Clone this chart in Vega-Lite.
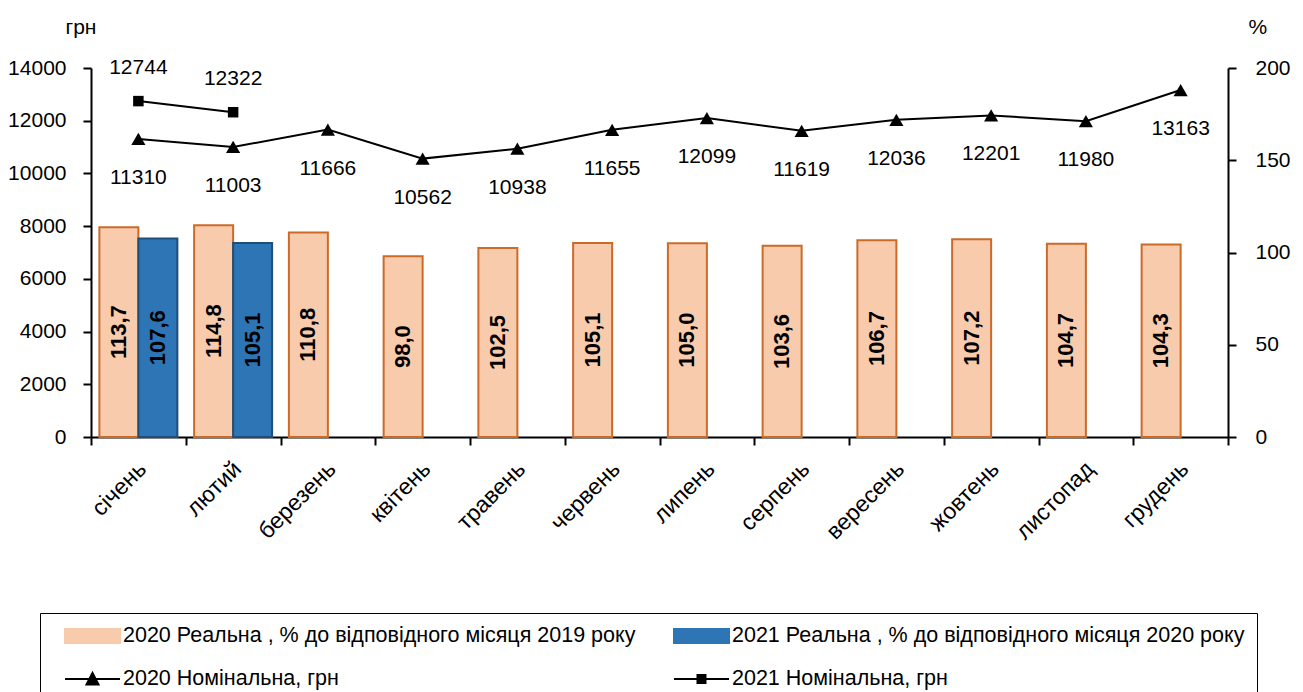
{
  "$schema": "https://vega.github.io/schema/vega-lite/v6.json",
  "width": 1137,
  "height": 369,
  "autosize": {"type": "none"},
  "padding": {"left": 91, "top": 68, "right": 75, "bottom": 255},
  "config": {
    "font": "Liberation Sans",
    "view": {"stroke": null},
    "locale": {"number": {"decimal": ",", "thousands": "", "grouping": [3], "currency": ["", ""]}},
    "axis": {
      "grid": false,
      "domainColor": "black",
      "domainWidth": 2,
      "tickColor": "black",
      "tickWidth": 2,
      "tickSize": 8,
      "labelFontSize": 21,
      "labelColor": "black",
      "labelFont": "Liberation Sans",
      "titleFontSize": 21,
      "titleFontWeight": "normal",
      "titleColor": "black",
      "titleFont": "Liberation Sans"
    },
    "legend": {
      "title": null,
      "orient": "none",
      "legendX": -51,
      "legendY": 545,
      "columns": 2,
      "strokeColor": "black",
      "padding": 12,
      "labelFontSize": 21.5,
      "labelColor": "black",
      "labelFont": "Liberation Sans",
      "labelLimit": 800,
      "symbolSize": 400,
      "symbolStrokeWidth": 2,
      "labelOffset": 49,
      "rowPadding": 21,
      "columnPadding": 25
    }
  },
  "datasets": {
    "bars": [
      {"month": "січень", "series": "2020 Реальна , % до відповідного місяця 2019 року", "v": 113.7},
      {"month": "січень", "series": "2021 Реальна , % до відповідного місяця 2020 року", "v": 107.6},
      {"month": "лютий", "series": "2020 Реальна , % до відповідного місяця 2019 року", "v": 114.8},
      {"month": "лютий", "series": "2021 Реальна , % до відповідного місяця 2020 року", "v": 105.1},
      {"month": "березень", "series": "2020 Реальна , % до відповідного місяця 2019 року", "v": 110.8},
      {"month": "квітень", "series": "2020 Реальна , % до відповідного місяця 2019 року", "v": 98.0},
      {"month": "травень", "series": "2020 Реальна , % до відповідного місяця 2019 року", "v": 102.5},
      {"month": "червень", "series": "2020 Реальна , % до відповідного місяця 2019 року", "v": 105.1},
      {"month": "липень", "series": "2020 Реальна , % до відповідного місяця 2019 року", "v": 105.0},
      {"month": "серпень", "series": "2020 Реальна , % до відповідного місяця 2019 року", "v": 103.6},
      {"month": "вересень", "series": "2020 Реальна , % до відповідного місяця 2019 року", "v": 106.7},
      {"month": "жовтень", "series": "2020 Реальна , % до відповідного місяця 2019 року", "v": 107.2},
      {"month": "листопад", "series": "2020 Реальна , % до відповідного місяця 2019 року", "v": 104.7},
      {"month": "грудень", "series": "2020 Реальна , % до відповідного місяця 2019 року", "v": 104.3}
    ],
    "lines": [
      {"month": "січень", "series": "2020 Номінальна, грн", "v": 11310},
      {"month": "лютий", "series": "2020 Номінальна, грн", "v": 11003},
      {"month": "березень", "series": "2020 Номінальна, грн", "v": 11666},
      {"month": "квітень", "series": "2020 Номінальна, грн", "v": 10562},
      {"month": "травень", "series": "2020 Номінальна, грн", "v": 10938},
      {"month": "червень", "series": "2020 Номінальна, грн", "v": 11655},
      {"month": "липень", "series": "2020 Номінальна, грн", "v": 12099},
      {"month": "серпень", "series": "2020 Номінальна, грн", "v": 11619},
      {"month": "вересень", "series": "2020 Номінальна, грн", "v": 12036},
      {"month": "жовтень", "series": "2020 Номінальна, грн", "v": 12201},
      {"month": "листопад", "series": "2020 Номінальна, грн", "v": 11980},
      {"month": "грудень", "series": "2020 Номінальна, грн", "v": 13163},
      {"month": "січень", "series": "2021 Номінальна, грн", "v": 12744},
      {"month": "лютий", "series": "2021 Номінальна, грн", "v": 12322}
    ]
  },
  "encoding": {
    "x": {
      "field": "month",
      "type": "nominal",
      "sort": ["січень", "лютий", "березень", "квітень", "травень", "червень", "липень", "серпень", "вересень", "жовтень", "листопад", "грудень"],
      "scale": {"paddingInner": 0, "paddingOuter": 0},
      "axis": {"title": null, "labelAngle": -45, "labelAlign": "right", "labelBaseline": "middle", "labelFontSize": 23, "labelPadding": 20, "labelOffset": 4, "tickBand": "extent"}
    }
  },
  "layer": [
    {
      "data": {"name": "bars"},
      "layer": [
        {
          "mark": {"type": "bar", "strokeWidth": 2},
          "encoding": {
            "xOffset": {"field": "series", "type": "nominal", "scale": {"domain": ["2020 Реальна , % до відповідного місяця 2019 року", "2021 Реальна , % до відповідного місяця 2020 року"], "paddingInner": 0, "paddingOuter": 0.215}},
            "y": {"field": "v", "type": "quantitative", "stack": null, "scale": {"domain": [0, 200]},
              "axis": {"orient": "right", "values": [0, 50, 100, 150, 200], "format": "d", "labelPadding": 19, "title": "%", "titleAngle": 0, "titleAlign": "left", "titleBaseline": "middle", "titleX": 20, "titleY": -41}},
            "color": {
              "field": "series",
              "type": "nominal",
              "scale": {
                "domain": ["2020 Реальна , % до відповідного місяця 2019 року", "2020 Номінальна, грн", "2021 Реальна , % до відповідного місяця 2020 року", "2021 Номінальна, грн"],
                "range": ["#F8CBAD", "#000000", "#2E75B6", "#000000"]
              },
              "legend": {
                "encode": {
                  "symbols": {
                    "update": {
                      "shape": {"signal": "indexof(datum.value,'Реальна')>=0 ? 'M0.2,-0.7H5.7V0.7H0.2Z' : (indexof(datum.value,'2020')==0 ? 'M0.2,0H5.7M2.35,0.55L2.95,-0.6L3.55,0.55Z' : 'M0.2,0H5.7M2.55,-0.4H3.35V0.4H2.55Z')"},
                      "stroke": {"signal": "indexof(datum.value,'2019')>=0 ? '#CC6A28' : (indexof(datum.value,'Реальна')>=0 ? '#1F4E79' : '#000000')"},
                      "strokeWidth": {"value": 2},
                      "opacity": {"value": 1}
                    }
                  }
                }
              }
            },
            "stroke": {
              "field": "series",
              "type": "nominal",
              "scale": {
                "domain": ["2020 Реальна , % до відповідного місяця 2019 року", "2020 Номінальна, грн", "2021 Реальна , % до відповідного місяця 2020 року", "2021 Номінальна, грн"],
                "range": ["#CC6A28", "#000000", "#1F4E79", "#000000"]
              },
              "legend": {
                "encode": {
                  "symbols": {
                    "update": {
                      "shape": {"signal": "indexof(datum.value,'Реальна')>=0 ? 'M0.2,-0.7H5.7V0.7H0.2Z' : (indexof(datum.value,'2020')==0 ? 'M0.2,0H5.7M2.35,0.55L2.95,-0.6L3.55,0.55Z' : 'M0.2,0H5.7M2.55,-0.4H3.35V0.4H2.55Z')"},
                      "stroke": {"signal": "indexof(datum.value,'2019')>=0 ? '#CC6A28' : (indexof(datum.value,'Реальна')>=0 ? '#1F4E79' : '#000000')"},
                      "strokeWidth": {"value": 2},
                      "opacity": {"value": 1}
                    }
                  }
                }
              }
            }
          }
        },
        {
          "mark": {"type": "text", "angle": 270, "fontWeight": "bold", "fontSize": 22, "color": "black", "font": "Liberation Sans"},
          "encoding": {
            "xOffset": {"field": "series", "type": "nominal"},
            "y": {"field": "v", "type": "quantitative", "stack": "zero", "bandPosition": 0.5},
            "text": {"field": "v", "type": "quantitative", "format": ".1f"}
          }
        }
      ]
    },
    {
      "data": {"name": "lines"},
      "encoding": {
        "y": {"field": "v", "type": "quantitative", "scale": {"domain": [0, 14000]},
          "axis": {"orient": "left", "values": [0, 2000, 4000, 6000, 8000, 10000, 12000, 14000], "format": "d", "labelPadding": 17, "title": "грн", "titleAngle": 0, "titleAlign": "left", "titleBaseline": "middle", "titleX": -26, "titleY": -41}}
      },
      "layer": [
        {
          "mark": {"type": "line", "strokeWidth": 2},
          "encoding": {"color": {"field": "series", "type": "nominal"}}
        },
        {
          "transform": [{"filter": "datum.series == '2020 Номінальна, грн'"}],
          "mark": {"type": "point", "shape": "triangle-up", "filled": true, "opacity": 1, "size": 200, "color": "black"},
          "encoding": {}
        },
        {
          "transform": [{"filter": "datum.series == '2021 Номінальна, грн'"}],
          "mark": {"type": "point", "shape": "square", "filled": true, "opacity": 1, "size": 110, "color": "black"},
          "encoding": {}
        },
        {
          "transform": [{"filter": "datum.series == '2020 Номінальна, грн'"}],
          "mark": {"type": "text", "dy": 39, "fontSize": 21, "color": "black", "font": "Liberation Sans"},
          "encoding": {"text": {"field": "v", "type": "quantitative", "format": "d"}}
        },
        {
          "transform": [{"filter": "datum.series == '2021 Номінальна, грн'"}],
          "mark": {"type": "text", "dy": -33, "fontSize": 21, "color": "black", "font": "Liberation Sans"},
          "encoding": {"text": {"field": "v", "type": "quantitative", "format": "d"}}
        }
      ]
    }
  ],
  "resolve": {"scale": {"y": "independent"}}
}
